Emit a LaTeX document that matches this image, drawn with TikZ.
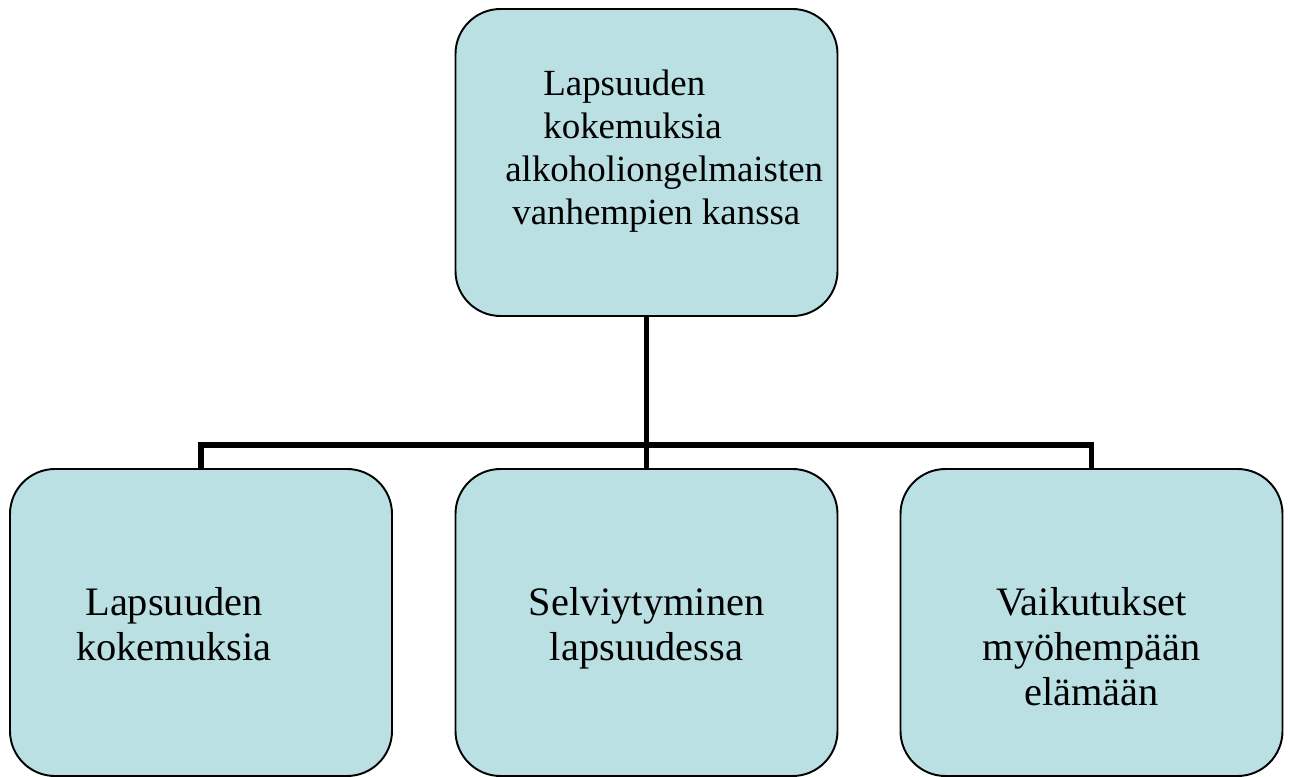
\documentclass[tikz,border=0pt]{standalone}
\usepackage{fontspec}
\setmainfont{Liberation Serif}
\usepackage{xcolor}
\usepackage{tikz}
\usetikzlibrary{positioning,calc}
\definecolor{boxfill}{HTML}{BBE0E3}
\definecolor{ink}{HTML}{000000}

\begin{document}
\begin{tikzpicture}[x=1cm,y=1cm,
  orgbox/.style={draw=ink,fill=boxfill,line width=1.1pt,rounded corners=0.9cm,
    minimum width=7.64cm,minimum height=6.14cm,inner sep=0pt},
  toptext/.style={text=ink,inner sep=0pt,align=left,
    font=\fontsize{21}{24.4}\selectfont},
  subtext/.style={text=ink,inner sep=0pt,align=center,anchor=north,
    font=\fontsize{23}{25.5}\selectfont},
  conn/.style={draw=ink,line width=3pt}]
  \useasboundingbox (0,0) rectangle (25.80,15.52);

  % chart boxes
  \node[orgbox] (top) at (12.93,12.27) {};
  \node[orgbox] (left) at (4.02,3.07) {};
  \node[orgbox] (mid) at (12.93,3.07) {};
  \node[orgbox] (right) at (21.83,3.07) {};

  % connectors
  \draw[conn] (top.south) -- ++(0,-2.56) coordinate (bus) -| (left.north);
  \draw[conn] (bus) -| (right.north);
  \draw[conn] (bus) -- (mid.north);

  % labels
  \node[toptext,anchor=north west] (topLab) at (10.10,14.12)
    {\hspace*{0.76cm}Lapsuuden\\ \hspace*{0.76cm}kokemuksia\\
     alkoholiongelmaisten\\ \hspace*{0.14cm}vanhempien kanssa};
  \node[subtext] (leftLab) at (3.48,3.78) {Lapsuuden\\ kokemuksia};
  \node[subtext] (midLab) at (12.93,3.78) {Selviytyminen\\ lapsuudessa};
  \node[subtext] (rightLab) at (21.83,3.78)
    {Vaikutukset\\ myöhempään\\ elämään};
\end{tikzpicture}
\end{document}
